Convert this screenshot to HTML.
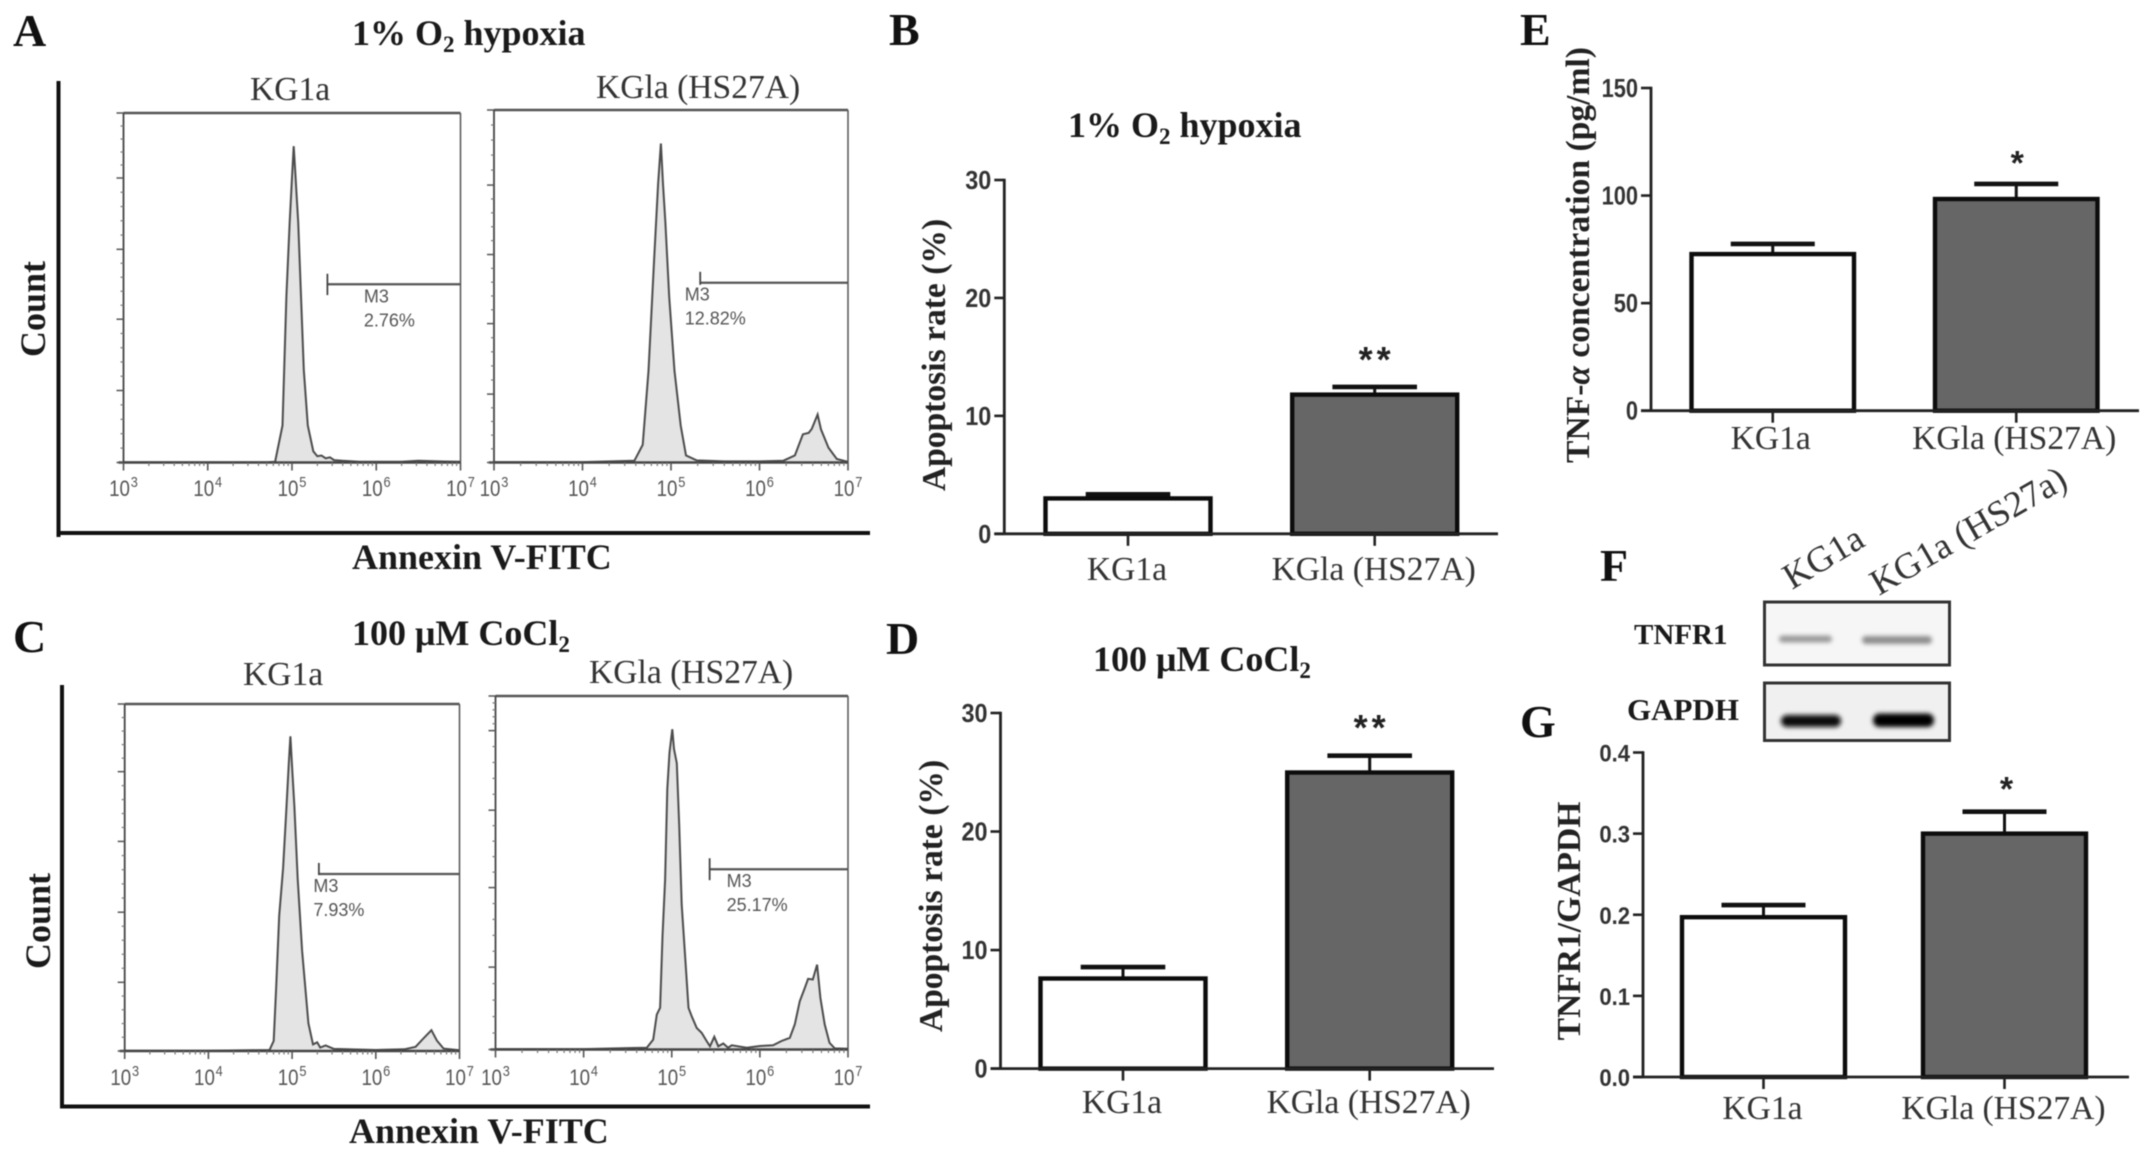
<!DOCTYPE html>
<html lang="en">
<head>
<meta charset="utf-8">
<title>Apoptosis and TNF figure panels</title>
<style>
html,body{margin:0;padding:0;background:#fff;width:2150px;height:1155px;overflow:hidden}
svg{display:block;filter:blur(0.55px)}
.serif{font-family:"Liberation Serif","Noto Serif CJK SC",serif}
.sans{font-family:"Liberation Sans","Noto Sans CJK SC",sans-serif}
.letter{font-family:"Liberation Serif",serif;font-weight:bold;font-size:46px;fill:#111}
.title{font-family:"Liberation Serif",serif;font-weight:bold;font-size:36px;fill:#1a1a1a}
.axis-title{font-family:"Liberation Serif",serif;font-weight:bold;font-size:33.6px;fill:#222}
.sub{font-family:"Liberation Serif",serif;font-size:33.6px;fill:#333}
</style>
</head>
<body>
<svg id="figure" xmlns="http://www.w3.org/2000/svg" width="2150" height="1155" viewBox="0 0 2150 1155">
<defs>
<filter id="soft" x="-30%" y="-150%" width="160%" height="400%"><feGaussianBlur stdDeviation="2.2"/></filter>
<filter id="softer" x="-30%" y="-150%" width="160%" height="400%"><feGaussianBlur stdDeviation="2.4"/></filter>
</defs>
<rect width="2150" height="1155" fill="#fff"/>

<text class="letter" x="13" y="46">A</text>
<text class="letter" x="13" y="652">C</text>
<text class="letter" x="889" y="45">B</text>
<text class="letter" x="886" y="654">D</text>
<text class="letter" x="1520" y="45">E</text>
<text class="letter" x="1600" y="581">F</text>
<text class="letter" x="1520" y="737">G</text>

<text class="title" x="352" y="45">1% O<tspan font-size="23" dy="7">2</tspan><tspan dy="-7"> hypoxia</tspan></text>
<text class="title" x="352" y="645">100 μM CoCl<tspan font-size="23" dy="7">2</tspan></text>
<text class="title" x="1068" y="137">1% O<tspan font-size="23" dy="7">2</tspan><tspan dy="-7"> hypoxia</tspan></text>
<text class="title" x="1093" y="671">100 μM CoCl<tspan font-size="23" dy="7">2</tspan></text>

<text class="sub" x="250" y="100">KG1a</text>
<text class="sub" x="596" y="98">KGla (HS27A)</text>
<text class="sub" x="243" y="685">KG1a</text>
<text class="sub" x="589" y="683">KGla (HS27A)</text>

<rect x="56.5" y="81" width="4" height="456" fill="#111"/>
<rect x="60" y="531" width="810" height="4" fill="#111"/>
<rect x="60" y="685" width="4" height="423" fill="#111"/>
<rect x="60" y="1104.5" width="810" height="4" fill="#111"/>

<text class="title" x="352" y="569">Annexin V-FITC</text>
<text class="title" x="349" y="1143">Annexin V-FITC</text>
<text class="title" transform="translate(45,309) rotate(-90)" text-anchor="middle">Count</text>
<text class="title" transform="translate(50,921) rotate(-90)" text-anchor="middle">Count</text>

<text class="axis-title" transform="translate(945,355) rotate(-90)" text-anchor="middle">Apoptosis rate (%)</text>
<text class="axis-title" transform="translate(942,896) rotate(-90)" text-anchor="middle">Apoptosis rate (%)</text>
<text class="axis-title" transform="translate(1589,255) rotate(-90)" text-anchor="middle">TNF-<tspan font-style="italic">α</tspan> concentration (pg/ml)</text>
<text class="axis-title" transform="translate(1580,921) rotate(-90)" text-anchor="middle">TNFR1/GAPDH</text>

<text class="sub" transform="translate(1792,590) rotate(-31)" style="font-size:36.5px">KG1a</text>
<text class="sub" transform="translate(1879,596) rotate(-30)" style="font-size:36.5px">KG1a (HS27a)</text>
<text class="title" x="1634" y="644" style="font-size:29px">TNFR1</text>
<text class="title" x="1627" y="720" style="font-size:31px">GAPDH</text>

<g>
<rect x="1764.5" y="602" width="185" height="63" fill="#f6f6f6" stroke="#333" stroke-width="3"/>
<rect x="1779" y="635.5" width="53" height="7" rx="3.5" fill="#9a9a9a" filter="url(#soft)"/>
<rect x="1862" y="636" width="70" height="8" rx="4" fill="#8f8f8f" filter="url(#soft)"/>
</g>
<g>
<rect x="1764.5" y="683" width="185" height="57.5" fill="#f0f0f0" stroke="#333" stroke-width="3"/>
<rect x="1781" y="715" width="60" height="12" rx="6" fill="#0c0c0c" filter="url(#softer)"/>
<rect x="1873" y="713.5" width="61" height="13.5" rx="6.5" fill="#000" filter="url(#softer)"/>
</g>
<g id="charts"></g>
</svg>

<script>
/* ---------- histogram data (log10 fluorescence, count as % of full scale) ---------- */
const xDecades = [3, 4, 5, 6, 7];
const a1Logs = [3.0, 4.0, 4.7, 4.8, 4.887, 4.933, 4.973, 5.0, 5.02, 5.04, 5.053, 5.073, 5.107, 5.14, 5.187, 5.253, 5.3, 5.35, 5.4, 5.45, 5.5, 5.6, 5.8, 6.0, 6.3, 6.5, 6.8, 7.0];
const a1Counts = [0.1, 0.1, 0.1, 0.2, 10.6, 47.6, 68.8, 81.5, 90.5, 82.5, 77, 68.8, 47.6, 26.5, 10.6, 3.2, 1.8, 2, 1.2, 1.5, 0.7, 0.5, 0.2, 0.2, 0.2, 0.5, 0.3, 0.2];
const a1YTicks = [0, 20.6, 41, 61, 81.4, 100];
const a2Logs = [3.0, 4.0, 4.587, 4.68, 4.746, 4.81, 4.854, 4.886, 4.91, 4.937, 4.98, 5.04, 5.11, 5.17, 5.29, 5.6, 6.0, 6.27, 6.4, 6.49, 6.556, 6.59, 6.657, 6.695, 6.78, 6.873, 7.0];
const a2Counts = [0.1, 0.1, 0.5, 5, 26, 58, 79, 90.5, 79, 68, 47, 26, 10.5, 2, 0.6, 0.3, 0.3, 0.5, 2, 8, 8.4, 9.5, 13.6, 9.4, 4.2, 1, 0.2];
const a2YTicks = [0, 19.4, 39.4, 59, 78.7, 100];
const c1Logs = [3.0, 4.0, 4.73, 4.78, 4.81, 4.846, 4.893, 4.933, 4.96, 4.98, 5.0, 5.027, 5.067, 5.12, 5.195, 5.25, 5.3, 5.336, 5.4, 5.5, 6.0, 6.34, 6.476, 6.557, 6.664, 6.73, 6.81, 7.0];
const c1Counts = [0.1, 0.1, 0.3, 2.9, 18.5, 39, 52.7, 70.4, 82.9, 90.7, 81.8, 70.4, 49.6, 28.9, 8, 1.9, 2.5, 1, 1.6, 0.6, 0.3, 0.5, 1.2, 3.3, 6, 3, 0.7, 0.2];
const c1YTicks = [0, 19.8, 40, 60.4, 80.5, 100];
const c2Logs = [3.0, 4.0, 4.717, 4.79, 4.83, 4.868, 4.895, 4.925, 4.95, 4.975, 5.006, 5.025, 5.057, 5.085, 5.113, 5.15, 5.19, 5.226, 5.283, 5.34, 5.396, 5.434, 5.483, 5.528, 5.585, 5.64, 5.68, 5.85, 6.0, 6.15, 6.245, 6.34, 6.396, 6.453, 6.51, 6.547, 6.6, 6.649, 6.687, 6.736, 6.79, 6.85, 7.0];
const c2Counts = [0.1, 0.1, 0.5, 2.8, 9.9, 11.8, 32, 48, 73.7, 84, 90.6, 85, 81, 63.5, 41, 26.9, 11.8, 9.4, 6.1, 4.7, 2.4, 0.9, 3.6, 0.9, 1.7, 0.5, 1.2, 0.5, 1, 1.2, 2.4, 3.3, 7.1, 13.7, 17.4, 20, 19.8, 24, 14.6, 7.1, 1.9, 0.3, 0.2];
const c2YTicks = [0, 23.3, 45.8, 67.7, 90.2, 100];

/* ---------- bar chart data ---------- */
const barCategories = ["KG1a", "KGla (HS27A)"];
const bTicks = [0, 10, 20, 30];
const bValues = [3.0, 11.8];
const bErrors = [0.35, 0.65];
const dTicks = [0, 10, 20, 30];
const dValues = [7.6, 24.98];
const dErrors = [0.97, 1.42];
const eTicks = [0, 50, 100, 150];
const eValues = [72.8, 98.4];
const eErrors = [4.7, 7];
const gTicks = ["0.0", "0.1", "0.2", "0.3", "0.4"];
const gValues = [0.197, 0.30];
const gErrors = [0.015, 0.027];

const NS = 'http://www.w3.org/2000/svg';
const chartsRoot = document.getElementById('charts');

function mk(parent, tag, attrs, text) {
  const node = document.createElementNS(NS, tag);
  for (const key in attrs) node.setAttribute(key, attrs[key]);
  if (text !== undefined) node.textContent = text;
  parent.appendChild(node);
  return node;
}

function drawHistogram(cfg) {
  const g = mk(chartsRoot, 'g', {});
  
  
  const sx = v => cfg.left + (v - 3) / 4 * (cfg.right - cfg.left);
  const sy = v => cfg.bottom - v / 100 * (cfg.bottom - cfg.top);

  /* filled curve */
  let d = '';
  cfg.logs.forEach((v, i) => { d += (i ? 'L' : 'M') + sx(v).toFixed(1) + ' ' + sy(cfg.counts[i]).toFixed(1); });
  const area = mk(g, 'path', {d: d + 'L' + sx(cfg.logs[cfg.logs.length - 1]) + ' ' + cfg.bottom + 'L' + sx(cfg.logs[0]) + ' ' + cfg.bottom + 'Z', fill: '#e4e4e4', stroke: 'none'});
  
  
  const curve = mk(g, 'path', {d: d, fill: 'none', stroke: '#4c4c4c', 'stroke-width': 2});
  
  

  /* frame */
  const frame = [
    [cfg.left, cfg.top, cfg.right, cfg.top, '#555', 2.6],
    [cfg.left, cfg.top, cfg.left, cfg.bottom, '#444', 1.8],
    [cfg.right, cfg.top, cfg.right, cfg.bottom, '#555', 1.5],
    [cfg.left - 5, cfg.bottom, cfg.right, cfg.bottom, '#444', 2.4]
  ];
  frame.forEach(f => {
    const line = mk(g, 'line', {x1: f[0], y1: f[1], x2: f[2], y2: f[3], stroke: f[4], 'stroke-width': f[5]});
    
    
  });

  /* y ticks */
  cfg.yTicks.forEach((v, i) => {
    const major = mk(g, 'line', {x1: cfg.left - 7, x2: cfg.left, y1: sy(v), y2: sy(v), stroke: '#555', 'stroke-width': 1.5});
    
    
    if (i < cfg.yTicks.length - 1) {
      const next = cfg.yTicks[i + 1];
      for (let k = 1; k < 5; k++) {
        const mv = v + (next - v) * k / 5;
        const minor = mk(g, 'line', {x1: cfg.left - 3, x2: cfg.left, y1: sy(mv), y2: sy(mv), stroke: '#777', 'stroke-width': 1.2});
        
        
      }
    }
  });

  /* x ticks and labels */
  xDecades.forEach((dec, i) => {
    const major = mk(g, 'line', {x1: sx(dec), x2: sx(dec), y1: cfg.bottom, y2: cfg.bottom + 8, stroke: '#555', 'stroke-width': 1.6});
    
    
    if (i < xDecades.length - 1) {
      for (let m = 2; m < 10; m++) {
        const mx = sx(dec + Math.log10(m));
        const minor = mk(g, 'line', {x1: mx, x2: mx, y1: cfg.bottom, y2: cfg.bottom + 3.5, stroke: '#777', 'stroke-width': 1.2});
        
        
      }
    }
    const label = mk(g, 'text', {transform: 'translate(' + sx(dec) + ',' + cfg.labelY + ') scale(0.85,1)', 'text-anchor': 'middle', 'font-size': 22, fill: '#555', class: 'sans'}, '10');
    
    
    const exp = mk(label, 'tspan', {'font-size': 15, dy: -9, dx: 1}, String(dec));
    
    
  });

  /* M3 gate */
  const gx = sx(cfg.gate[0]);
  const gateH = mk(g, 'line', {x1: gx, x2: cfg.right, y1: sy(cfg.gate[1]), y2: sy(cfg.gate[1]), stroke: '#555', 'stroke-width': 2.2});
  
  
  const gateV = mk(g, 'line', {x1: gx, x2: gx, y1: sy(cfg.gate[2]), y2: sy(cfg.gate[3]), stroke: '#444', 'stroke-width': 1.8});
  
  
  const m3 = mk(g, 'text', {x: gx + cfg.labelDx, y: sy(cfg.gate[1]) + 18, 'font-size': 18, fill: '#555', class: 'sans'}, 'M3');
  
  
  const pct = mk(g, 'text', {x: gx + cfg.labelDx, y: sy(cfg.gate[1]) + 42, 'font-size': 18, fill: '#555', class: 'sans'}, cfg.pct);
  
  
}

function drawBars(cfg) {
  const g = mk(chartsRoot, 'g', {});
  
  
  const sy = v => cfg.zero - Number(v) / cfg.max * (cfg.zero - cfg.top);
  const barLeft = i => cfg.first + i * cfg.step;

  cfg.values.forEach((v, i) => {
    const left = barLeft(i), mid = left + cfg.barW / 2;
    const stem = mk(g, 'line', {x1: mid, x2: mid, y1: sy(v), y2: sy(v + cfg.errors[i]), stroke: '#111', 'stroke-width': 3});
    
    
    const cap = mk(g, 'line', {x1: mid - cfg.cap, x2: mid + cfg.cap, y1: sy(v + cfg.errors[i]), y2: sy(v + cfg.errors[i]), stroke: '#111', 'stroke-width': 4.6});
    
    
    const bar = mk(g, 'rect', {x: left, y: sy(v), width: cfg.barW, height: cfg.zero - sy(v), fill: i ? '#666' : '#fff', stroke: '#0c0c0c', 'stroke-width': 4.4});
    
    
    const tick = mk(g, 'line', {x1: mid, x2: mid, y1: cfg.zero, y2: cfg.zero + 12, stroke: '#222', 'stroke-width': 2.6});
    
    
    const label = mk(g, 'text', {x: mid + cfg.catDx, y: cfg.catY, 'text-anchor': 'middle', class: 'sub'}, cfg.categories[i]);
    
    
  });

  const yAxis = mk(g, 'line', {x1: cfg.axisX, x2: cfg.axisX, y1: cfg.top - 1.3, y2: cfg.zero, stroke: '#222', 'stroke-width': 2.8});
  
  
  const xAxis = mk(g, 'line', {x1: cfg.axisX - 10, x2: cfg.xEnd, y1: cfg.zero, y2: cfg.zero, stroke: '#222', 'stroke-width': 2.8});
  
  

  cfg.ticks.forEach(v => {
    const tick = mk(g, 'line', {x1: cfg.axisX - 10, x2: cfg.axisX, y1: sy(v), y2: sy(v), stroke: '#222', 'stroke-width': 2.6});
    
    
    const label = mk(g, 'text', {transform: 'translate(' + (cfg.axisX - 13) + ',' + (sy(v) + 9) + ') scale(' + cfg.tickScale + ',1)', 'text-anchor': 'end', 'font-size': cfg.tickSize, 'font-weight': 'bold', fill: '#333', class: 'sans'}, String(v));
    
    
  });

  const stars = mk(g, 'text', {x: barLeft(1) + cfg.barW / 2 + cfg.starDx, y: cfg.starY, 'text-anchor': 'middle', 'font-size': cfg.starSize, 'font-weight': 'bold', 'letter-spacing': cfg.starGap, fill: '#222', class: 'sans'}, cfg.stars);
  
  
}

drawHistogram({name: 'a-kg1a', left: 123.5, right: 460.5, top: 113, bottom: 462.5, labelY: 496, logs: a1Logs, counts: a1Counts, yTicks: a1YTicks, gate: [5.42, 51, 54, 47.9], labelDx: 36.5, pct: '2.76%'});
drawHistogram({name: 'a-hs27a', left: 494, right: 848, top: 110, bottom: 462.5, labelY: 496, logs: a2Logs, counts: a2Counts, yTicks: a2YTicks, gate: [5.33, 51, 54.1, 50.4], labelDx: -15.5, pct: '12.82%'});
drawHistogram({name: 'c-kg1a', left: 124.7, right: 459.5, top: 704, bottom: 1051, labelY: 1085, logs: c1Logs, counts: c1Counts, yTicks: c1YTicks, gate: [5.32, 51, 54.2, 50.7], labelDx: -5.5, pct: '7.93%'});
drawHistogram({name: 'c-hs27a', left: 495.5, right: 848, top: 696, bottom: 1049.5, labelY: 1085, logs: c2Logs, counts: c2Counts, yTicks: c2YTicks, gate: [5.43, 51, 54.1, 47.9], labelDx: 17, pct: '25.17%'});

drawBars({name: 'b', axisX: 1004.3, xEnd: 1498, top: 180, zero: 533.8, max: 30, first: 1045.5, step: 246.7, barW: 165, cap: 42.3, catY: 580, catDx: -1, categories: barCategories, values: bValues, errors: bErrors, ticks: bTicks, tickSize: 26, tickScale: 0.9, stars: '**', starSize: 36, starGap: 4, starDx: 2, starY: 372});
drawBars({name: 'd', axisX: 1000.5, xEnd: 1494, top: 713, zero: 1068.6, max: 30, first: 1040.5, step: 246.7, barW: 165, cap: 42.3, catY: 1113, catDx: -1, categories: barCategories, values: dValues, errors: dErrors, ticks: dTicks, tickSize: 26, tickScale: 0.9, stars: '**', starSize: 36, starGap: 4, starDx: 2, starY: 740});
drawBars({name: 'e', axisX: 1651, xEnd: 2139, top: 88, zero: 410.7, max: 150, first: 1691.5, step: 243.5, barW: 162.5, cap: 42, catY: 449, catDx: -2, categories: barCategories, values: eValues, errors: eErrors, ticks: eTicks, tickSize: 26, tickScale: 0.84, stars: '*', starSize: 34, starGap: 0, starDx: 1, starY: 174.5});
drawBars({name: 'g', axisX: 1643, xEnd: 2129, top: 752.5, zero: 1077, max: 0.4, first: 1682, step: 241, barW: 163, cap: 42, catY: 1119, catDx: -1, categories: barCategories, values: gValues, errors: gErrors, ticks: gTicks, tickSize: 24, tickScale: 0.92, stars: '*', starSize: 34, starGap: 0, starDx: 2, starY: 800.5});
</script>
</body>
</html>
